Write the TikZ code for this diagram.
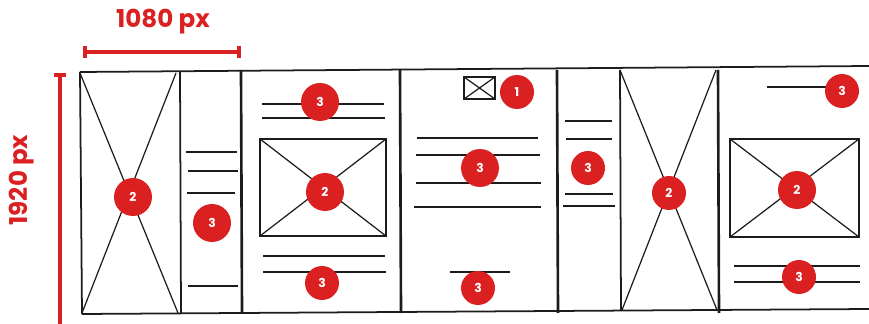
\documentclass[tikz,border=0pt]{standalone}
\usepackage{fontspec}
\setsansfont{Poppins}
\usetikzlibrary{arrows.meta,positioning}
\definecolor{markred}{RGB}{218,32,32}
\definecolor{pencil}{RGB}{28,28,28}
\tikzset{
  badge/.style={circle, fill=markred, text=white, inner sep=0pt, minimum size=0.76cm,
      font=\sffamily\bfseries\scriptsize},
  sbadge/.style={badge, minimum size=0.68cm},
  divline/.style={pencil, line width=1.5pt},
  edgeline/.style={pencil, line width=1pt},
  xline/.style={pencil, line width=0.7pt},
  txtline/.style={pencil, line width=1.1pt},
  dimbar/.style={markred, line width=2.2pt},
  dimlab/.style={text=markred, font=\sffamily\bfseries\fontsize{14}{16}\selectfont},
}

\begin{document}
\begin{tikzpicture}[x=0.02cm, y=-0.02cm]
  \useasboundingbox (0,0) rectangle (869,324);
  % size marks
  \coordinate (w0) at (83,52); \coordinate (w1) at (241,52);
  \coordinate (h0) at (60,73); \coordinate (h1) at (60,324);
  \draw[dimbar, {Bar[width=7pt]}-{Bar[width=7pt]}] (w0) -- (w1);
  \draw[dimbar, {Bar[width=7pt]}-] (h0) -- (h1);
  \node[dimlab] (wlab) at (163,22) {1080 px};
  \node[dimlab, rotate=90] (hlab) at (22,180) {1920 px};
  % strip outline
  \draw[edgeline] (80,72) -- (869,66);
  \draw[edgeline] (82,314) -- (869,309);
  \draw[edgeline] (80,72) -- (82,314);
  \draw[edgeline] (180,72) -- (181,313);
  \draw[edgeline] (620,70) -- (621,310);
  \foreach \x in {241,400,557,718}
    \draw[divline] (\x,70) -- (\x+1,313);
  % images
  \draw[xline] (80,73) -- (178,313) (176,73) -- (82,313);
  \draw[edgeline] (260,139) rectangle (386,236);
  \draw[xline] (260,139) -- (386,236) (386,139) -- (260,236);
  \draw[edgeline] (464,77) rectangle (495,99);
  \draw[xline] (464,77) -- (495,99) (495,77) -- (464,99);
  \draw[xline] (620,70) -- (717,310) (716,70) -- (622,310);
  \draw[edgeline] (730,139) rectangle (859,237);
  \draw[xline] (730,139) -- (859,237) (859,139) -- (730,237);
  % text lines
  \foreach \y/\a/\b in {152/186/237, 171/188/238, 193/187/235, 286/188/238,
      104/262/384, 118/262/385, 256/263/385, 272/263/386,
      138/417/538, 155/416/540, 183/416/541, 207/414/541, 272/450/510,
      121/565/612, 139/566/612, 194/565/613, 206/563/615,
      87/767/840, 266/734/860, 282/734/860}
    \draw[txtline] (\a,\y) -- (\b,\y);
  % numbered marks
  \node[badge] (img1) at (133,197) {2};
  \node[badge] (txt1) at (212,223) {3};
  \node[badge] (head2) at (320,102) {3};
  \node[badge] (img2) at (325,192) {2};
  \node[sbadge] (foot2) at (322,283) {3};
  \node[sbadge] (logo3) at (517,92) {1};
  \node[badge] (body3) at (480,168) {3};
  \node[sbadge] (foot3) at (478,288) {3};
  \node[sbadge] (txt4) at (588,168) {3};
  \node[sbadge] (img4) at (669,193) {2};
  \node[sbadge] (head5) at (842,91) {3};
  \node[badge] (img5) at (797,190) {2};
  \node[sbadge] (foot5) at (799,277) {3};
\end{tikzpicture}
\end{document}
